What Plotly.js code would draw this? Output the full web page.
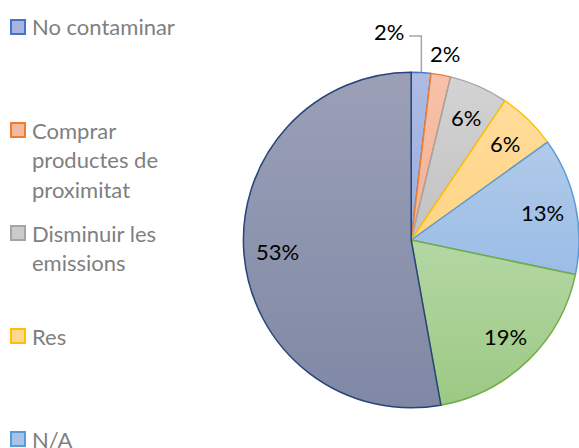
<!DOCTYPE html>
<html>
<head>
<meta charset="utf-8">
<script src="https://cdn.plot.ly/plotly-3.0.1.min.js"></script>
<style>html,body{margin:0;padding:0;background:#fff;}#chart{width:579px;height:448px;}</style>
</head>
<body>
<div id="chart"></div>
<script>
// ---- data ----
const categories = ['No contaminar', 'Comprar productes de proximitat', 'Disminuir les emissions', 'Res', 'N/A', 'Reciclar', 'Altres'];
const counts = [1, 1, 3, 3, 7, 10, 28];
const legendText = ['No contaminar', 'Comprar<br>productes de<br>proximitat', 'Disminuir les<br>emissions', 'Res', 'N/A', 'Reciclar', 'Altres'];
const fillColors = ['#a6b5e0', '#f5b99f', '#cbcbcb', '#ffd890', '#a7c4e8', '#a9d095', '#8d94ae'];
const gradTop = ['#aebbe3', '#f7c2ab', '#d3d3d3', '#ffdd9c', '#b0cae9', '#b4d7a3', '#9ba0b7'];
const gradBottom = ['#9aaedd', '#f3b093', '#c2c2c2', '#ffd485', '#9bbde6', '#9cc984', '#7f88a5'];
const lineColors = ['#4472c4', '#ed7d31', '#a5a5a5', '#ffc000', '#5b9bd5', '#70ad47', '#264478'];

// ---- geometry / styling ----
const W = 579, H = 448;
const cx = 411.4, cy = 240, R = 168;
const FONT = 'Lato, "Open Sans", sans-serif';
const total = counts.reduce((a, b) => a + b, 0);
const pctText = counts.map(c => Math.round(c / total * 100) + '%');

function pt(angleDeg, r) {
  const a = angleDeg * Math.PI / 180;
  return [cx + r * Math.sin(a), cy - r * Math.cos(a)];
}
const px2x = px => px / W;
const py2y = py => 1 - py / H;

const annotations = [];
const shapes = [];

// slice labels
let cum = 0;
counts.forEach((c, i) => {
  const ang = (cum + c / 2) / total * 360;
  cum += c;
  let pos;
  if (i === 0) {
    pos = [389, 32];
    const edge = pt(ang, R);
    shapes.push({type: 'path', xref: 'paper', yref: 'paper',
      path: 'M' + px2x(409) + ',' + py2y(36) + ' L' + px2x(edge[0]) + ',' + py2y(36) + ' L' + px2x(edge[0]) + ',' + py2y(edge[1]),
      line: {color: '#a6a6a6', width: 1.5}});
  } else if (i === 1) {
    pos = pt(ang, R * 1.13);
  } else {
    pos = pt(ang, R * 0.8);
  }
  annotations.push({xref: 'paper', yref: 'paper', x: px2x(pos[0]), y: py2y(pos[1]),
    xanchor: 'center', yanchor: 'middle', showarrow: false, text: pctText[i],
    font: {family: FONT, size: 22, color: '#000000'}});
});

// legend (manually laid out like the original)
legendText.forEach((t, i) => {
  const y0 = 27 + i * 103;
  if (y0 > H + 10) return;
  shapes.push({type: 'rect', xref: 'paper', yref: 'paper',
    x0: px2x(11), x1: px2x(25), y0: py2y(y0 - 7), y1: py2y(y0 + 7),
    fillcolor: fillColors[i], line: {color: lineColors[i], width: 2}});
  t.split('<br>').forEach((line, k) => {
    annotations.push({xref: 'paper', yref: 'paper', x: px2x(30), y: py2y(y0 + k * 29.5),
      xanchor: 'left', yanchor: 'middle', showarrow: false, text: line,
      font: {family: FONT, size: 22, color: '#7f7f7f'}});
  });
});

const trace = {
  type: 'pie',
  labels: categories,
  values: counts,
  sort: false,
  direction: 'clockwise',
  rotation: 0,
  textinfo: 'none',
  hoverinfo: 'label+percent',
  showlegend: false,
  marker: {colors: fillColors, line: {color: lineColors, width: 1.5}},
  domain: {x: [(cx - R) / W, Math.min(1, (cx + R) / W)], y: [(H - cy - R) / H, (H - cy + R) / H]}
};

const layout = {
  width: W, height: H,
  margin: {l: 0, r: 0, t: 0, b: 0},
  paper_bgcolor: '#ffffff',
  showlegend: false,
  annotations: annotations,
  shapes: shapes
};

Plotly.newPlot('chart', [trace], layout, {staticPlot: true, displayModeBar: false}).then(gd => {
  // subtle vertical gradient fill on each slice, like the original
  const svgNS = 'http://www.w3.org/2000/svg';
  const svg = gd.querySelector('svg.main-svg');
  let defs = svg.querySelector('defs');
  if (!defs) { defs = document.createElementNS(svgNS, 'defs'); svg.insertBefore(defs, svg.firstChild); }
  const paths = gd.querySelectorAll('g.slice path.surface');
  paths.forEach((p, i) => {
    const id = 'sliceGrad' + i;
    const g = document.createElementNS(svgNS, 'linearGradient');
    g.setAttribute('id', id);
    g.setAttribute('x1', '0'); g.setAttribute('y1', '0');
    g.setAttribute('x2', '0'); g.setAttribute('y2', '1');
    [[0, gradTop[i]], [1, gradBottom[i]]].forEach(([o, col]) => {
      const s = document.createElementNS(svgNS, 'stop');
      s.setAttribute('offset', o);
      s.setAttribute('stop-color', col);
      g.appendChild(s);
    });
    defs.appendChild(g);
    p.style.fill = 'url(#' + id + ')';
  });
});
</script>
</body>
</html>
